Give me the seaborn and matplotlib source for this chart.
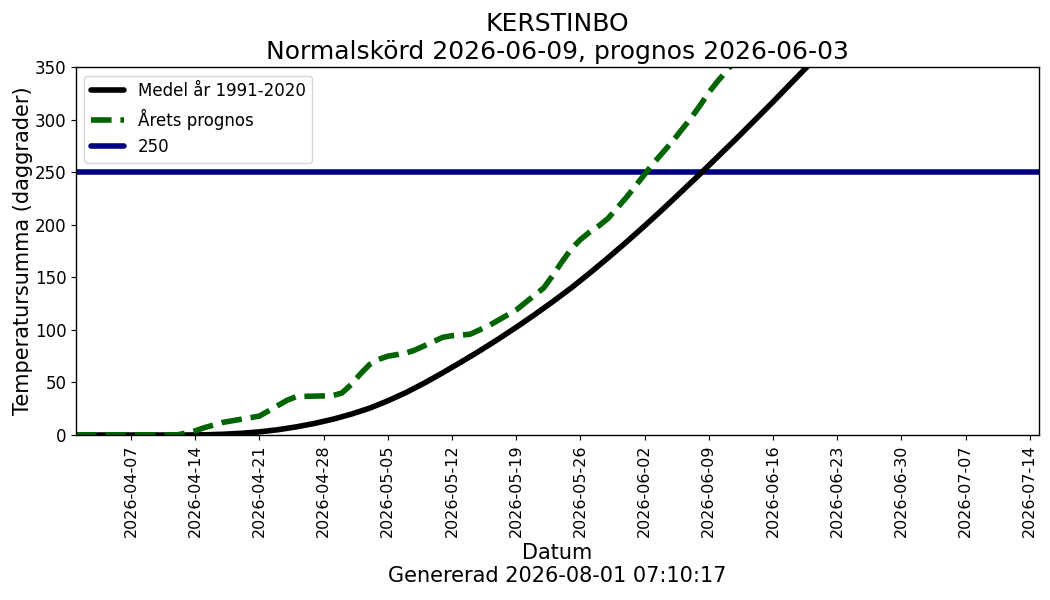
import pandas as pd
import matplotlib
matplotlib.use('Agg')
import matplotlib.pyplot as plt
import matplotlib.dates as mdates
import seaborn as sns

sns.set_style('ticks')
plt.rcParams['font.family'] = ['DejaVu Sans']
for key in ['text.color', 'axes.labelcolor', 'xtick.color', 'ytick.color',
            'axes.edgecolor']:
    plt.rcParams[key] = 'black'

# Normal (1991-2020) temperature sum, read every second day from 2026-04-01
normal_dates = pd.date_range('2026-04-01', '2026-06-22', freq='2D')
normal_apr = [0, 0, 0, 0, 0, 0, 0, 0.2, 0.7, 1.6, 3.0, 5.0, 7.7, 11.0, 15.0]
normal_may = [19.8, 25.5, 32.5, 40.5, 49.5, 59.3, 69.5, 80, 91, 102.5, 114.5,
              127, 140, 154, 168.5, 183.5]
normal_jun = [199, 215, 231.5, 248, 265, 282, 299.5, 317, 335, 353, 371]

# This year's forecast, daily from 2026-04-01
prognos_dates = pd.date_range('2026-04-01', '2026-06-13', freq='D')
prognos_apr = [0, 0, 0, 0, 0, 0, 0, 0, 0, 0, 0, 0, 2, 4, 7, 9.5, 12, 13.5,
               15, 16.5, 18, 23, 28, 33, 36.5, 36.8, 37, 37.2, 37.5, 40]
prognos_may = [48, 58, 67, 72, 75, 76.5, 78, 81, 85, 89, 93, 94.5, 95, 96,
               100, 104, 109, 114, 119, 126, 133, 140, 152, 165, 177, 186,
               193, 199, 206, 216, 226]
prognos_jun = [237, 248, 259, 269, 279, 290, 301, 313, 326, 337, 347, 358, 369]

threshold = 250
tick_dates = pd.date_range('2026-04-07', '2026-07-14', freq='7D')

normal = pd.DataFrame({'Datum': normal_dates,
                       'Summa': normal_apr + normal_may + normal_jun})
prognos = pd.DataFrame({'Datum': prognos_dates,
                        'Summa': prognos_apr + prognos_may + prognos_jun})

fig, ax = plt.subplots(figsize=(10.5, 6), dpi=100)
fig.subplots_adjust(left=0.0724, right=0.9895, top=0.888, bottom=0.275)

sns.lineplot(data=normal, x='Datum', y='Summa', color='black', linewidth=4,
             label='Medel år 1991-2020', ax=ax)
sns.lineplot(data=prognos, x='Datum', y='Summa', color='darkgreen', linewidth=4,
             linestyle='--', label='Årets prognos', ax=ax)
ax.axhline(threshold, color='navy', linewidth=4, label=str(threshold), zorder=1.5)

ax.set_xlim(pd.Timestamp('2026-04-01'), pd.Timestamp('2026-07-15'))
ax.set_ylim(0, 350)
ax.set_xticks(tick_dates)
ax.xaxis.set_major_formatter(mdates.DateFormatter('%Y-%m-%d'))
ax.tick_params(axis='x', labelrotation=90, labelsize=11.5)
ax.tick_params(axis='y', labelsize=12)
for s in ax.spines.values():
    s.set_linewidth(1)

ax.set_title('KERSTINBO\nNormalskörd 2026-06-09, prognos 2026-06-03', fontsize=18)
ax.set_xlabel('Datum\nGenererad 2026-08-01 07:10:17', fontsize=15)
ax.set_ylabel('Temperatursumma (daggrader)', fontsize=15, labelpad=1)
ax.legend(loc='upper left', fontsize=12)

plt.savefig('out.png', dpi=100)
